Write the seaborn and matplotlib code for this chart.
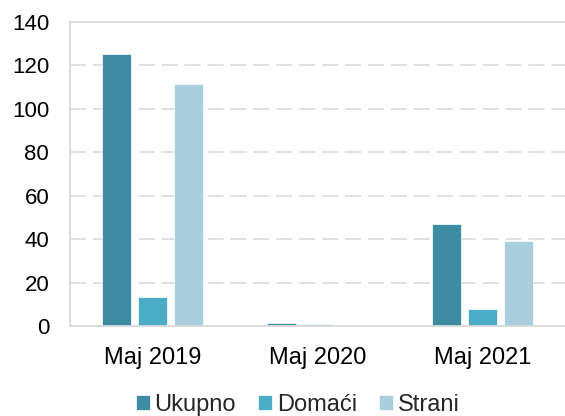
import matplotlib

matplotlib.use("Agg")

import matplotlib.pyplot as plt
import pandas as pd
import seaborn as sns


PERIODS = ["Maj 2019", "Maj 2020", "Maj 2021"]
SERIES = ["Ukupno", "Domaći", "Strani"]
UKUPNO = [125.5, 1.5, 47]
DOMACI = [13.5, 1, 8]
STRANI = [111.5, 0, 39]
Y_TICKS = [0, 20, 40, 60, 80, 100, 120, 140]
COLORS = ["#3E8CA4", "#4BACC6", "#A9CFDE"]


def main() -> None:
    rows = []
    for name, values in zip(SERIES, [UKUPNO, DOMACI, STRANI]):
        for period, value in zip(PERIODS, values):
            rows.append({"Period": period, "Serija": name, "Broj": value})
    data = pd.DataFrame(rows)

    sns.set_theme(style="white")
    plt.rcParams["font.family"] = ["Liberation Sans", "DejaVu Sans"]
    grid_color = "#D9D9D9"

    fig = plt.figure(figsize=(5.65, 4.16), dpi=100)
    ax = fig.add_axes([0.124, 0.2163, 0.876, 0.7307])

    sns.barplot(
        data=data,
        x="Period",
        y="Broj",
        hue="Serija",
        order=PERIODS,
        hue_order=SERIES,
        palette=COLORS,
        width=0.66,
        gap=0.2,
        saturation=1,
        edgecolor="white",
        linewidth=0.5,
        ax=ax,
    )

    ax.set_ylim(0, 140)
    ax.set_xlim(-0.5, 2.5)
    ax.set_yticks(Y_TICKS)
    ax.set_xlabel("")
    ax.set_ylabel("")
    ax.tick_params(axis="both", length=0, colors="black")
    ax.tick_params(axis="y", pad=15, labelsize=16)
    ax.tick_params(axis="x", pad=15, labelsize=17)

    ax.yaxis.grid(True, color=grid_color, linewidth=1.1, linestyle=(0, (10.5, 4.5)))
    ax.set_axisbelow(True)
    for side in ["left", "bottom", "top"]:
        ax.spines[side].set_visible(True)
        ax.spines[side].set_color(grid_color)
        ax.spines[side].set_linewidth(1.3)
    ax.spines["right"].set_visible(False)

    handles, labels = ax.get_legend_handles_labels()
    ax.get_legend().remove()
    fig.legend(
        handles,
        labels,
        loc="center",
        bbox_to_anchor=(0.527, 0.027),
        ncol=3,
        frameon=False,
        fontsize=17,
        handlelength=0.6,
        handleheight=0.6,
        handletextpad=0.2,
        columnspacing=0.93,
        borderpad=0,
    )

    fig.savefig("out.png", dpi=100)


if __name__ == "__main__":
    main()
